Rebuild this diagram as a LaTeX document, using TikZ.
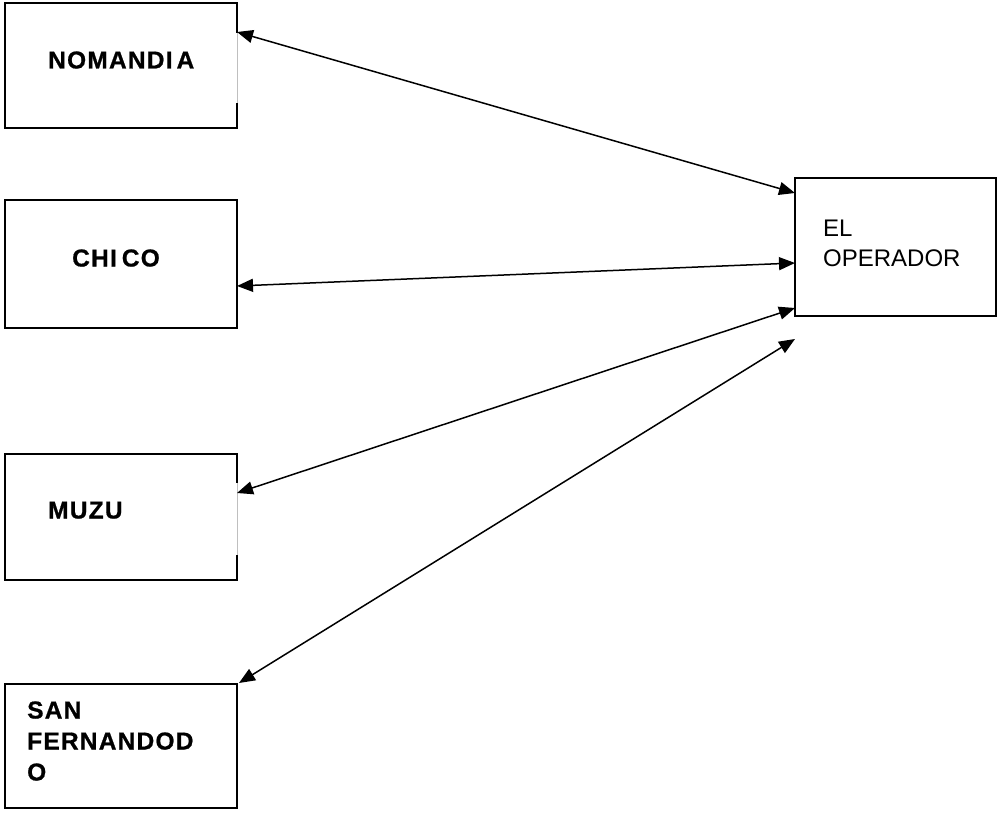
\documentclass[tikz,border=0pt]{standalone}
\usepackage{fontspec}
\setmainfont{Liberation Sans}[BoldFont={Liberation Sans Bold}]
\newfontfamily\boldlab{Liberation Sans Bold}[LetterSpace=5, FakeBold=0.8]
\usetikzlibrary{arrows.meta}
\begin{document}
\begin{tikzpicture}[x=1pt,y=-1pt,
  box/.style={draw, line width=1.5pt, minimum width=232pt, minimum height=125pt, inner sep=0pt, outer sep=0pt, anchor=north west},
  lab/.style={font=\boldlab\fontsize{24.5pt}{31pt}\selectfont, inner sep=0pt, anchor=base west, align=left},
  oplab/.style={font=\fontsize{24pt}{30pt}\selectfont, inner sep=0pt, anchor=base west, align=left},
  link/.style={line width=1.5pt, {Triangle[length=16pt,width=13pt]}-{Triangle[length=16pt,width=13pt]}},
  gap/.style={white, line width=2.5pt},
  thin/.style={black!25, line width=0.6pt}]
\useasboundingbox (0,0) rectangle (998,813);
\node[box] (nom) at (5,3) {};
\node[box, minimum height=128pt] (chi) at (5,200) {};
\node[box, minimum height=126pt] (muz) at (5,454) {};
\node[box, minimum height=124pt] (san) at (5,684) {};
\node[box, minimum width=201pt, minimum height=138pt] (op) at (795,178) {};
% light segments on right edges
\draw[gap] ([yshift=-30pt]nom.north east) -- ([yshift=25pt]nom.south east);
\draw[thin] ([yshift=-30pt]nom.north east) -- ([yshift=25pt]nom.south east);
\draw[gap] ([yshift=-29pt]muz.north east) -- ([yshift=25pt]muz.south east);
\draw[thin] ([yshift=-29pt]muz.north east) -- ([yshift=25pt]muz.south east);
% labels
\node[lab] (tnom) at (48,68.5) {NOMANDI\hspace{4pt}A};
\node[lab] (tchi) at (72,266.5) {CHI\hspace{5pt}CO};
\node[lab] (tmuz) at (48,518.5) {MUZU};
\node[lab] (tsan) at (27,780.5) {SAN\\FERNANDOD\\O};
\node[oplab] (top) at (823,266.5) {EL\\OPERADOR};
% connectors
\draw[link] ([yshift=-29pt]nom.north east) -- ([yshift=-15pt]op.north west);
\draw[link] ([yshift=-86pt]chi.north east) -- ([yshift=-85pt]op.north west);
\draw[link] ([yshift=-39pt]muz.north east) -- ([yshift=-130pt]op.north west);
\draw[link] ([xshift=2pt,yshift=1pt]san.north east) -- ([yshift=-161pt]op.north west);
\end{tikzpicture}
\end{document}
